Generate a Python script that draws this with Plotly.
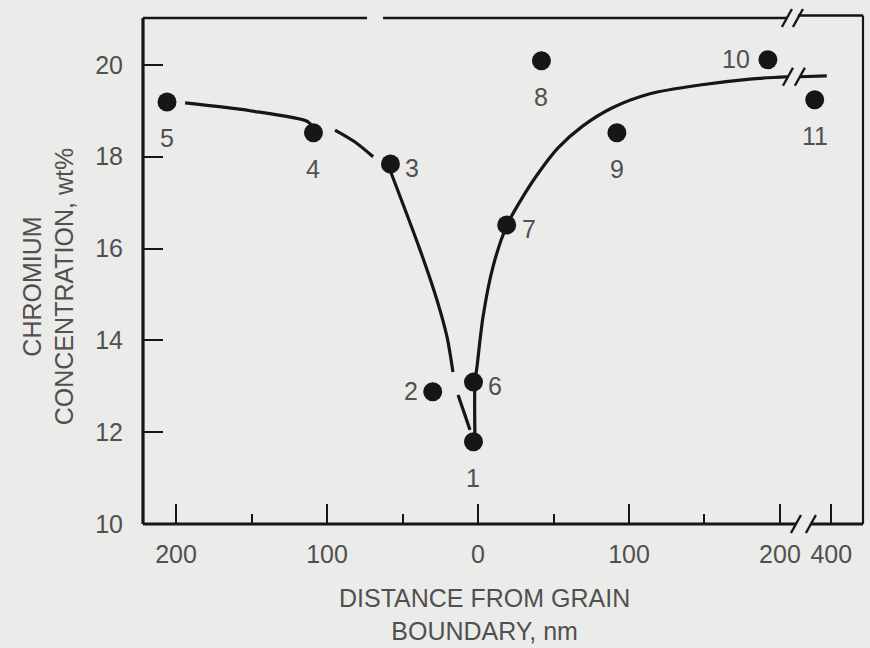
import plotly.graph_objects as go

# ---------------- data ----------------
point_labels = ["1", "2", "3", "4", "5", "6", "7", "8", "9", "10", "11"]
# signed distance from grain boundary, nm (negative = left side of boundary)
distance_nm = [-3, -30, -58, -109, -206, -3, 19, 42, 92, 192, 345]
chromium_wt = [11.79, 12.88, 17.84, 18.52, 19.19, 13.09, 16.51, 20.09, 18.52, 20.11, 19.24]

x_tick_distances = [-200, -100, 0, 100, 200, 400]
x_tick_labels = ["200", "100", "0", "100", "200", "400"]
x_minor_distances = [-150, -50, 50, 150]
y_tick_values = [10, 12, 14, 16, 18, 20]
y_tick_labels = ["10", "12", "14", "16", "18", "20"]

# hand-drawn trend curves
left_outer_d = [-194, -151, -112.6, -109.3]
left_outer_c = [19.17, 19.00, 18.76, 18.63]
left_dash_d = [-94.7, -81.5, -69.5]
left_dash_c = [18.58, 18.32, 18.00]
left_inner_d = [-58.3, -38.4, -27.2, -20.5, -16.6]
left_inner_c = [17.71, 15.97, 14.88, 14.07, 13.31]
left_tail_d = [-13.2, -5.3]
left_tail_c = [12.81, 12.05]
right_d = [-2.0, -2.0, -0.7, 3.3, 9.9, 19.2, 28.5, 39.1, 53.0, 69.5, 88.7, 113.9, 147.0, 180.1, 205.3]
right_c = [11.79, 13.09, 13.42, 14.51, 15.60, 16.51, 17.06, 17.60, 18.19, 18.67, 19.06, 19.37, 19.56, 19.69, 19.74]
right_far_d = [295, 385]
right_far_c = [19.74, 19.76]

# ---------------- broken axis mapping ----------------
BREAK_AT = 206


def axis_pos(d):
    if d <= BREAK_AT:
        return d
    return 234 + (d - 400) * 0.2


def mapped(ds):
    return [axis_pos(d) for d in ds]


# ---------------- styles ----------------
BG = "#ebebea"
INK = "#161616"
TXT = "#505050"
FONT = "Liberation Sans, Arial, sans-serif"
FS = 25

fig = go.Figure()

line_style = dict(color=INK, width=3.2)
for xs, ys in [(left_outer_d, left_outer_c), (left_dash_d, left_dash_c),
               (left_inner_d, left_inner_c), (left_tail_d, left_tail_c),
               (right_d, right_c), (right_far_d, right_far_c)]:
    fig.add_trace(go.Scatter(x=mapped(xs), y=ys, mode="lines",
                             line=dict(**line_style, shape="spline", smoothing=0.8),
                             hoverinfo="skip", showlegend=False))

fig.add_trace(go.Scatter(x=mapped(distance_nm), y=chromium_wt, mode="markers",
                         marker=dict(color=INK, size=19), showlegend=False,
                         text=point_labels))

# label placement (style only): side of the point where its number sits
label_side = {"1": "below", "2": "left", "3": "right", "4": "below", "5": "below",
              "6": "right", "7": "right", "8": "below", "9": "below",
              "10": "left", "11": "below"}
shifts = {"below": (0, -36), "right": (22, -4), "left": (-22, 1)}
for lab, d, c in zip(point_labels, distance_nm, chromium_wt):
    sx, sy = shifts[label_side[lab]]
    if lab == "10":
        sx = -32
    fig.add_annotation(x=axis_pos(d), y=c, text=lab, showarrow=False,
                       xshift=sx, yshift=sy, xanchor="center", yanchor="middle",
                       font=dict(family=FONT, size=FS, color=TXT))

# ---------------- frame (with breaks) ----------------
def hline(x0, x1, y, xref="x", w=2.6):
    fig.add_shape(type="line", xref=xref, yref="paper", x0=x0, x1=x1, y0=y, y1=y,
                  line=dict(color=INK, width=w), layer="above")


XMIN, XMAX = -221.9, 255
# left and right frame
fig.add_shape(type="line", xref="paper", yref="paper", x0=0, x1=0, y0=0, y1=1,
              line=dict(color=INK, width=3.2))
fig.add_shape(type="line", xref="paper", yref="paper", x0=1, x1=1, y0=0, y1=1.005,
              line=dict(color=INK, width=2.2))
# bottom with break
hline(XMIN, 210.6, 0, w=3.2)
hline(220.5, XMAX, 0, w=3.2)
# top with gap and break
hline(XMIN, -73.5, 1, w=2.6)
hline(-62.9, 204.6, 1, w=2.6)
hline(211.9, XMAX, 1.005, w=2.4)

# break slashes
for xc, ypaper in [(204.6, 1.0), (211.9, 1.0), (210.6, 0.0), (220.5, 0.0)]:
    fig.add_shape(type="line", xref="x", yref="paper", xsizemode="pixel", ysizemode="pixel",
                  xanchor=xc, yanchor=ypaper, x0=-5, x1=5, y0=-9, y1=9,
                  line=dict(color=INK, width=2.4), layer="above")
for xc in [205.3, 213.2]:
    fig.add_shape(type="line", xref="x", yref="y", xsizemode="pixel", ysizemode="pixel",
                  xanchor=xc, yanchor=19.74, x0=-5, x1=5, y0=-9, y1=9,
                  line=dict(color=INK, width=2.4), layer="above")

# ---------------- axes ----------------
fig.update_xaxes(range=[XMIN, XMAX], showgrid=False, zeroline=False, showline=False,
                 tickmode="array", tickvals=mapped(x_tick_distances), ticktext=x_tick_labels,
                 ticks="inside", ticklen=20, tickwidth=2.4, tickcolor=INK,
                 ticklabelstandoff=13,
                 tickfont=dict(family=FONT, size=FS, color=TXT),
                 minor=dict(tickvals=mapped(x_minor_distances), ticks="inside",
                            ticklen=10, tickwidth=2.4, tickcolor=INK, showgrid=False))
fig.update_yaxes(range=[10, 21.02], showgrid=False, zeroline=False, showline=False,
                 tickmode="array", tickvals=y_tick_values, ticktext=y_tick_labels,
                 ticks="inside", ticklen=20, tickwidth=2.4, tickcolor=INK,
                 ticklabelstandoff=19,
                 tickfont=dict(family=FONT, size=FS, color=TXT))

# axis titles
fig.add_annotation(xref="paper", yref="paper", x=(48 - 143) / 720, y=0.468,
                   text="CHROMIUM<br>CONCENTRATION, wt%", textangle=-90, showarrow=False,
                   xanchor="center", yanchor="middle",
                   font=dict(family=FONT, size=FS, color=TXT))
fig.add_annotation(xref="paper", yref="paper", x=(484 - 143) / 720, y=(524 - 614) / 506,
                   text="DISTANCE FROM GRAIN<br>BOUNDARY, nm", showarrow=False,
                   xanchor="center", yanchor="middle",
                   font=dict(family=FONT, size=FS, color=TXT))

fig.update_layout(width=870, height=648,
                  margin=dict(l=143, r=7, t=18, b=124),
                  paper_bgcolor=BG, plot_bgcolor=BG, showlegend=False)

fig.write_html("out.html")
